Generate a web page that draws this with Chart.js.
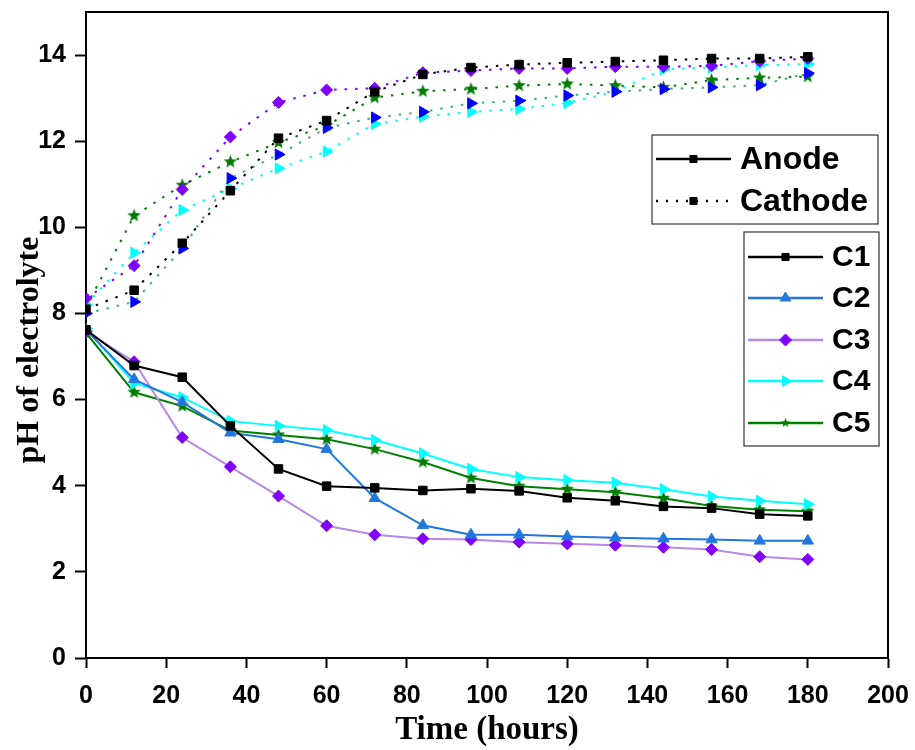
<!DOCTYPE html>
<html>
<head>
<meta charset="utf-8">
<script src="https://cdn.jsdelivr.net/npm/chart.js@4/dist/chart.umd.min.js"></script>
<style>
html,body{margin:0;padding:0;background:#fff;}
#wrap{width:915px;height:750px;position:relative;}
</style>
</head>
<body>
<div id="wrap"><canvas id="c" width="915" height="750"></canvas></div>
<script>
// ---- data ----
const hours = [0,12,24,36,48,60,72,84,96,108,120,132,144,156,168,180];
const xTicks = [0,20,40,60,80,100,120,140,160,180,200];
const yTicks = [0,2,4,6,8,10,12,14];
const seriesNames = ['C1','C2','C3','C4','C5'];
const groupNames = ['Anode','Cathode'];
const anodeC1 = [7.62,6.79,6.52,5.39,4.39,3.99,3.95,3.89,3.93,3.88,3.72,3.65,3.52,3.48,3.34,3.30];
const anodeC2 = [7.62,6.47,5.94,5.23,5.08,4.85,3.71,3.08,2.86,2.86,2.82,2.79,2.77,2.75,2.72,2.72];
const anodeC3 = [7.58,6.88,5.12,4.44,3.76,3.07,2.86,2.77,2.75,2.69,2.65,2.62,2.57,2.52,2.35,2.29];
const anodeC4 = [7.65,6.38,6.05,5.50,5.39,5.29,5.06,4.75,4.39,4.20,4.13,4.07,3.92,3.75,3.65,3.57];
const anodeC5 = [7.55,6.17,5.85,5.28,5.18,5.08,4.85,4.55,4.18,3.99,3.92,3.85,3.71,3.53,3.44,3.41];
const cathodeC1 = [8.10,8.54,9.63,10.85,12.07,12.48,13.15,13.55,13.71,13.78,13.82,13.85,13.88,13.92,13.92,13.96];
const cathodeC2 = [8.00,8.27,9.51,11.14,11.69,12.31,12.55,12.68,12.88,12.94,13.06,13.15,13.21,13.25,13.30,13.58];
const cathodeC3 = [8.35,9.11,10.88,12.10,12.90,13.19,13.23,13.59,13.64,13.69,13.69,13.73,13.73,13.75,13.86,13.92];
const cathodeC4 = [8.20,9.41,10.40,10.90,11.37,11.76,12.40,12.57,12.68,12.75,12.89,13.15,13.67,13.71,13.77,13.79];
const cathodeC5 = [8.15,10.27,10.98,11.52,11.97,12.36,13.01,13.16,13.21,13.29,13.33,13.29,13.25,13.42,13.47,13.50];

// ---- styles ----
function makeStar(size, color){
  const cv = document.createElement('canvas');
  cv.width = size; cv.height = size;
  const g = cv.getContext('2d');
  const cx = size/2, cy = size/2, R = size/2 - 0.5, r = R*0.42;
  g.beginPath();
  for(let i=0;i<10;i++){
    const a = -Math.PI/2 + i*Math.PI/5;
    const rad = i%2===0 ? R : r;
    g.lineTo(cx + rad*Math.cos(a), cy + rad*Math.sin(a));
  }
  g.closePath();
  g.fillStyle = color; g.fill();
  return cv;
}
const star = makeStar(15, '#007a00');
const starSmall = makeStar(11, '#007a00');

const pts = arr => arr.map((v,i)=>({x:hours[i], y:v}));
const DOT = [2.5, 8];

function ds(label, data, line, mark, style, rot, r, dashed){
  return {
    label, data: pts(data),
    borderColor: line, backgroundColor: mark, pointBackgroundColor: mark, pointBorderColor: mark,
    borderWidth: 2, borderDash: dashed ? DOT : [], pointStyle: style, pointRotation: rot || 0,
    pointRadius: r, pointHoverRadius: r, pointBorderWidth: 1, tension: 0, fill: false
  };
}

const datasets = [
  ds('Anode C1', anodeC1, '#000000', '#000000', 'rect', 0, 6, false),
  ds('Anode C2', anodeC2, '#2277dd', '#2277dd', 'triangle', 0, 6.5, false),
  ds('Anode C3', anodeC3, '#b58ae6', '#8000ff', 'rectRot', 0, 6, false),
  ds('Anode C4', anodeC4, '#00ffff', '#00ffff', 'triangle', 90, 6.5, false),
  ds('Anode C5', anodeC5, '#008000', '#007a00', star, 0, 7, false),
  ds('Cathode C1', cathodeC1, '#000000', '#000000', 'rect', 0, 6, true),
  ds('Cathode C2', cathodeC2, '#3cb371', '#0000ff', 'triangle', 90, 6.5, true),
  ds('Cathode C3', cathodeC3, '#8000ff', '#8000ff', 'rectRot', 0, 6, true),
  ds('Cathode C4', cathodeC4, '#00ffff', '#00ffff', 'triangle', 90, 6.5, true),
  ds('Cathode C5', cathodeC5, '#008000', '#007a00', star, 0, 7, true),
];

const frameAndLegend = {
  id: 'frameAndLegend',
  beforeDatasetsDraw(chart){
    const {ctx, chartArea:a} = chart;
    ctx.save();
    ctx.strokeStyle = '#000'; ctx.lineWidth = 2;
    ctx.strokeRect(a.left, a.top, a.right - a.left, a.bottom - a.top);
    ctx.restore();
  },
  afterDraw(chart){
    const ctx = chart.ctx;
    const H = Chart.helpers;
    ctx.save();
    // y axis title
    ctx.save();
    ctx.translate(38, 350);
    ctx.rotate(-Math.PI/2);
    ctx.font = 'bold 32px "Liberation Serif", "Times New Roman", serif';
    ctx.fillStyle = '#000'; ctx.textAlign = 'center'; ctx.textBaseline = 'alphabetic';
    ctx.fillText('pH of electrolyte', 0, 0);
    ctx.restore();

    function box(x1,y1,x2,y2){
      ctx.fillStyle = '#fff'; ctx.fillRect(x1,y1,x2-x1,y2-y1);
      ctx.strokeStyle = '#333'; ctx.lineWidth = 1.2; ctx.setLineDash([]);
      ctx.strokeRect(x1,y1,x2-x1,y2-y1);
    }
    function entry(x1,x2,y,color,mark,style,rot,r,dashed,text,tx,fs){
      ctx.strokeStyle = color; ctx.lineWidth = 2.5;
      ctx.setLineDash(dashed ? [2,8] : []);
      ctx.beginPath(); ctx.moveTo(x1,y); ctx.lineTo(x2,y); ctx.stroke();
      ctx.setLineDash([]);
      ctx.fillStyle = mark; ctx.strokeStyle = mark; ctx.lineWidth = 1;
      H.drawPoint(ctx, {pointStyle: style, rotation: rot, radius: r, borderWidth: 1}, (x1+x2)/2, y);
      ctx.fillStyle = '#000';
      ctx.font = 'bold ' + fs + 'px "Liberation Sans", Arial, sans-serif';
      ctx.textAlign = 'left'; ctx.textBaseline = 'middle';
      ctx.fillText(text, tx, y + 1);
    }
    box(652,135,878,224);
    entry(656,731,159,'#000','#000','rect',0,5,false,groupNames[0],740,32);
    entry(656,731,201,'#000','#000','rect',0,5,true,groupNames[1],740,32);

    box(744,232,879,446);
    const lc = ['#000000','#2277dd','#b58ae6','#00ffff','#008000'];
    const mc = ['#000000','#2277dd','#8000ff','#00ffff','#007a00'];
    const st = ['rect','triangle','rectRot','triangle',starSmall];
    const ro = [0,0,0,90,0];
    const ys = [257,298,340,381,423];
    for(let i=0;i<5;i++){
      entry(748,823,ys[i],lc[i],mc[i],st[i],ro[i],i===0?5:6,false,seriesNames[i],832,30);
    }
    ctx.restore();
  }
};

const tickFont = {family: '"Liberation Sans", Arial, sans-serif', size: 25, weight: 'bold'};

new Chart(document.getElementById('c'), {
  type: 'line',
  data: { datasets },
  options: {
    responsive: false, animation: false,
    layout: { autoPadding: false, padding: {top: 12, right: 27, bottom: 0, left: 0} },
    plugins: { legend: {display: false}, tooltip: {enabled: false} },
    scales: {
      x: {
        type: 'linear', min: 0, max: 200,
        afterFit(s){ s.height = 92; s.paddingLeft = 0; s.paddingRight = 0; },
        afterBuildTicks(s){ s.ticks = xTicks.map(v=>({value:v})); },
        grid: { drawOnChartArea: false, drawTicks: true, tickLength: 10, tickWidth: 2, tickColor: '#000' },
        border: { display: true, color: '#000', width: 2 },
        ticks: { font: tickFont, color: '#000', padding: 13, maxRotation: 0, autoSkip: false },
        title: { display: true, text: 'Time (hours)', color: '#000',
          font: {family: '"Liberation Serif", "Times New Roman", serif', size: 33, weight: 'bold'},
          padding: {top: 0, bottom: 0} }
      },
      y: {
        type: 'linear', min: 0, max: 15,
        afterFit(s){ s.width = 86; s.paddingTop = 0; s.paddingBottom = 0; },
        afterBuildTicks(s){ s.ticks = yTicks.map(v=>({value:v})); },
        grid: { drawOnChartArea: false, drawTicks: true, tickLength: 11, tickWidth: 2, tickColor: '#000' },
        border: { display: true, color: '#000', width: 2 },
        ticks: { font: tickFont, color: '#000', padding: 9, autoSkip: false }
      }
    }
  },
  plugins: [frameAndLegend]
});
</script>
</body>
</html>
